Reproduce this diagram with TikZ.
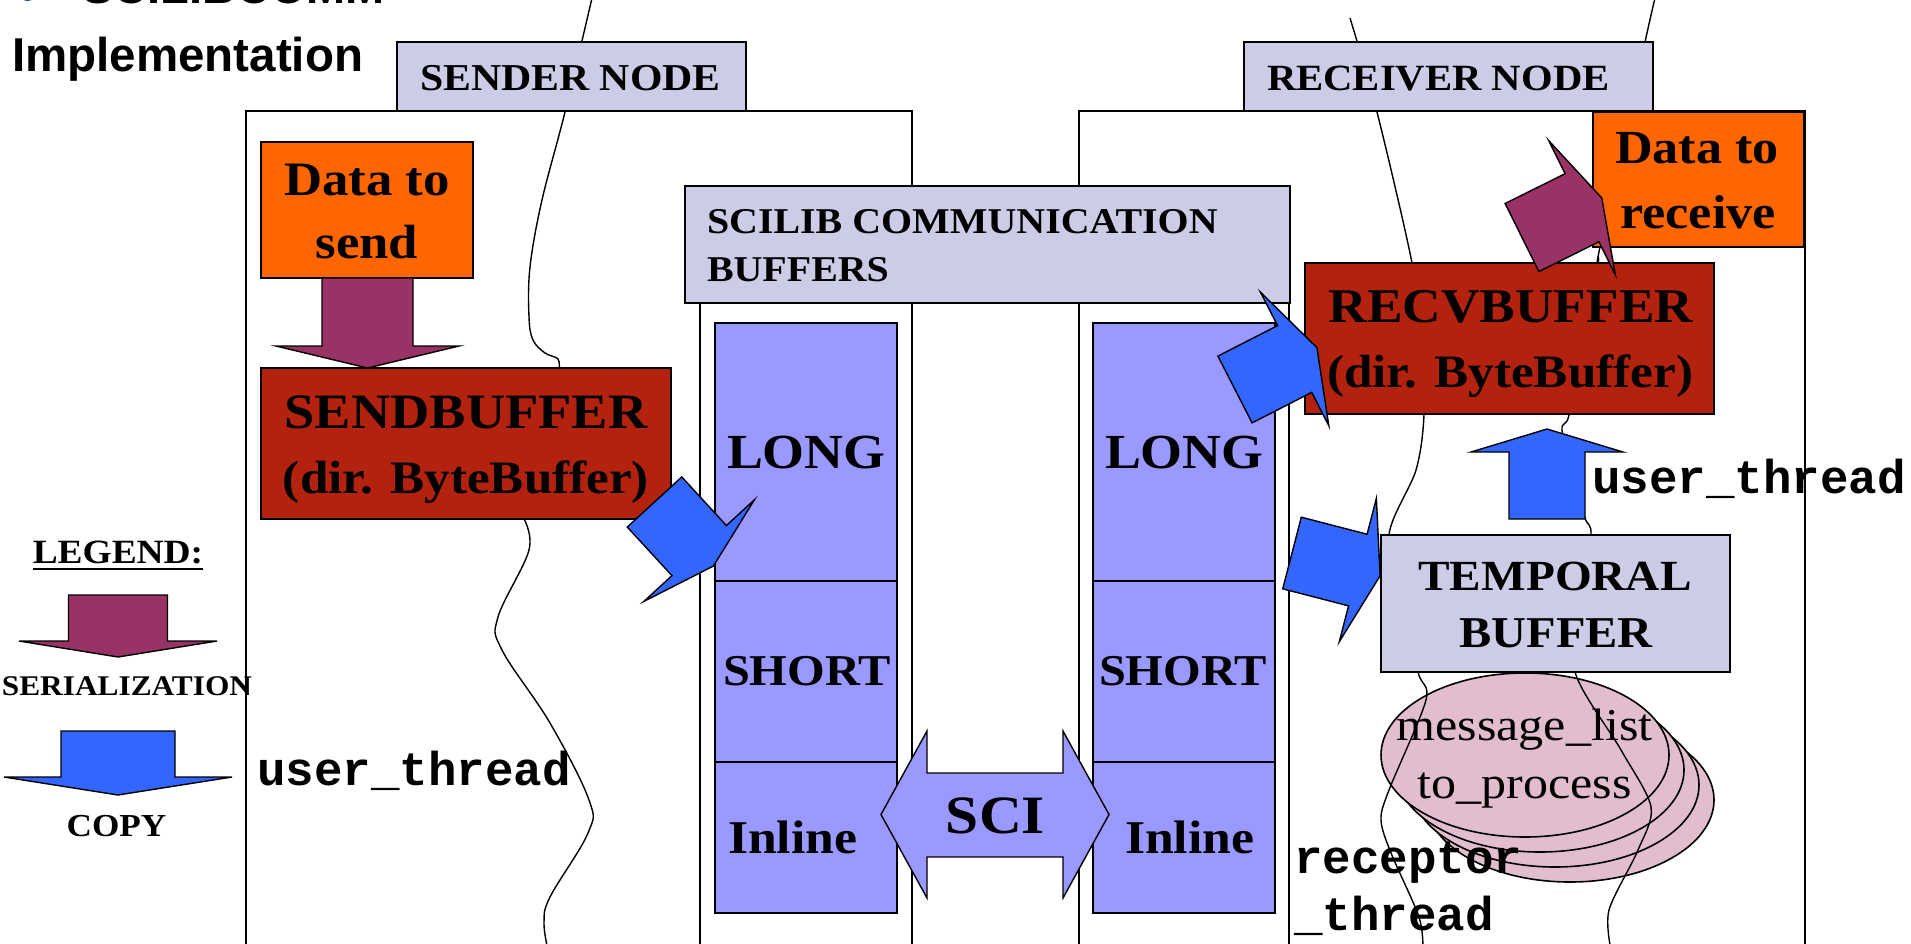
\documentclass[tikz,border=0pt]{standalone}
\usepackage{fontspec}
\setmainfont{Liberation Serif}
\newfontfamily\gserif[FakeStretch=1.1]{Liberation Serif}
\newfontfamily\gmono{Liberation Mono}
\newfontfamily\gsans{Liberation Sans}
\usetikzlibrary{shapes.geometric}
\newcommand{\fsz}[1]{\fontsize{#1}{#1}\selectfont}

\definecolor{lav}{RGB}{204,204,230}
\definecolor{orng}{RGB}{255,102,0}
\definecolor{brick}{RGB}{178,34,14}
\definecolor{plum}{RGB}{153,51,102}
\definecolor{cblue}{RGB}{51,102,255}
\definecolor{peri}{RGB}{153,153,255}
\definecolor{mlpink}{RGB}{225,189,205}
\definecolor{bullet}{RGB}{40,70,160}

% block arrow: #1,#2 back centre, #3 angle, #4 shaft half width,
% #5 shaft length, #6 head half width, #7 head depth, #8 fill colour
\newcommand{\blkarrow}[8]{%
  \begin{scope}[shift={(#1,#2)}, rotate=#3]
    \filldraw[fill=#8, draw=black, line width=1.4pt]
      (0,-#4) -- (#5,-#4) -- (#5,-#6) -- ({#5+#7},0) -- (#5,#6) -- (#5,#4) -- (0,#4) -- cycle;
  \end{scope}}

\begin{document}
\begin{tikzpicture}[x=1pt,y=-1pt,
  frame/.style={draw=black, line width=1.6pt, inner sep=0pt, outer sep=0pt},
  fbox/.style={frame, fill=#1},
  blk/.style={frame, fill=peri, minimum width=182pt},
  thr/.style={draw=black, line width=1.4pt},
  sb/.style={inner sep=0pt, outer sep=0pt, font=\gserif\bfseries},
  mono/.style={inner sep=0pt, outer sep=0pt, anchor=base west, font=\gmono\bfseries\fsz{47.5}}]
\useasboundingbox (0,0) rectangle (1911,943);
\fill[white] (0,0) rectangle (1911,943);

% page title, running off the top edge
\fill[bullet] (27.5,-9) circle (10pt);
\node[inner sep=0pt, anchor=base west, font=\gsans\bfseries\fsz{47}] (toptitle) at (82,3) {SCILIBCOMM};
\node[inner sep=0pt, anchor=base west, font=\gsans\bfseries\fsz{47.5}] (impl) at (12,71) {Implementation};

% node frames and buffer columns
\node[frame, minimum width=666pt, minimum height=839pt] (sendnode) at (579,530.5) {};
\node[frame, minimum width=726pt, minimum height=839pt] (recvnode) at (1442,530.5) {};
\node[frame, minimum width=212pt, minimum height=647pt] (sendcol) at (806,626.5) {};
\node[frame, minimum width=210pt, minimum height=647pt] (recvcol) at (1184,626.5) {};

% message list stack
\node[ellipse, fbox=mlpink, minimum width=288pt, minimum height=164pt] (msg4) at (1570,800) {};
\node[ellipse, fbox=mlpink, minimum width=288pt, minimum height=164pt] (msg3) at (1555,785) {};
\node[ellipse, fbox=mlpink, minimum width=288pt, minimum height=164pt] (msg2) at (1540,770) {};
\node[ellipse, fbox=mlpink, minimum width=288pt, minimum height=164pt] (msg1) at (1525,755) {};

% threads
\draw[thr] plot[smooth, tension=0.6] coordinates {(592,-2) (565,112) (542,200) (530,267) (529,317) (533,340) (545,353) (558,359) (559,370)};
\draw[thr] plot[smooth, tension=0.6] coordinates {(523,517) (529,550) (498,617) (502,650) (550,723) (589,800) (588,833) (550,897) (544,923) (548,950)};
\draw[thr] plot[smooth, tension=0.5] coordinates {(1350,18) (1377,112) (1412,263) (1421,340) (1424,414) (1416,470) (1389,535) (1405,600) (1418,672) (1426,700) (1389,790) (1381,820) (1391,853) (1419,917) (1423,950)};
\draw[thr] plot[smooth, tension=0.5] coordinates {(1655,-2) (1645,42) (1600,247) (1598,263) (1580,340) (1569,415) (1562,430) (1575,480) (1585,518) (1591,535) (1580,600) (1575,672) (1621,750) (1651,807) (1638,850) (1609,910) (1611,950)};

% boxes
\node[fbox=lav, minimum width=349pt, minimum height=69pt] (sendlbl) at (571.5,76.5) {};
\node[fbox=lav, minimum width=409pt, minimum height=69pt] (recvlbl) at (1448.5,76.5) {};
\node[fbox=lav, minimum width=605pt, minimum height=117pt] (scilib) at (987.5,244.5) {};
\node[fbox=orng, minimum width=212pt, minimum height=136pt] (datasend) at (367,210) {};
\node[fbox=brick, minimum width=410pt, minimum height=151pt] (sendbuf) at (466,443.5) {};
\node[fbox=orng, minimum width=211pt, minimum height=135pt] (datarecv) at (1698.5,179.5) {};
\node[fbox=brick, minimum width=409pt, minimum height=151pt] (recvbuf) at (1509.5,338.5) {};
\node[fbox=lav, minimum width=349pt, minimum height=137pt] (temporal) at (1555.5,603.5) {};

% communication buffer slots
\node[blk, minimum height=258pt] (slong) at (806,452) {};
\node[blk, minimum height=181pt] (sshort) at (806,671.5) {};
\node[blk, minimum height=151pt] (sinline) at (806,837.5) {};
\node[blk, minimum height=258pt] (rlong) at (1184,452) {};
\node[blk, minimum height=181pt] (rshort) at (1184,671.5) {};
\node[blk, minimum height=151pt] (rinline) at (1184,837.5) {};

% SCI link
\filldraw[fill=peri, draw=black, line width=1.4pt]
  (881,814.5) -- (927,731) -- (927,773) -- (1063,773) -- (1063,731) -- (1109,814.5)
  -- (1063,898) -- (1063,857) -- (927,857) -- (927,898) -- cycle;

% serialization and copy arrows
\blkarrow{367.5}{278}{-90}{45.5}{68}{91.5}{22}{plum}
\blkarrow{654.5}{502}{-47.4}{37}{66}{75}{21}{cblue}
\blkarrow{1235}{389.5}{27.1}{37.5}{67}{75}{25}{cblue}
\blkarrow{1292}{553}{-14.5}{37}{68}{74}{23}{cblue}
\blkarrow{1522}{237.5}{26.4}{38}{67}{75}{22}{plum}
\blkarrow{1547}{519}{90}{38}{67}{76}{23}{cblue}

% legend
\blkarrow{118}{595}{-90}{49.5}{46}{99}{16}{plum}
\blkarrow{118}{731}{-90}{57}{46}{114}{18}{cblue}
\node[sb, anchor=base, font=\gserif\bfseries\fsz{34}] (legtxt) at (118,563) {LEGEND:};
\draw[line width=2pt] ([yshift=-6pt]legtxt.base west) -- ([yshift=-6pt]legtxt.base east);
\node[sb, anchor=base, font=\gserif\bfseries\fsz{28.5}] (sertxt) at (127,695) {SERIALIZATION};
\node[sb, anchor=base, font=\gserif\bfseries\fsz{32}] (copytxt) at (116.5,836) {COPY};

% labels
\node[sb, anchor=base west, font=\gserif\bfseries\fsz{38}] (sendlbltxt) at (420,90) {SENDER NODE};
\node[sb, anchor=base west, font=\gserif\bfseries\fsz{37}] (recvlbltxt) at (1267,90) {RECEIVER NODE};
\node[sb, anchor=base west, font=\gserif\bfseries\fsz{36.3}] (scitxta) at (707,233) {SCILIB COMMUNICATION};
\node[sb, anchor=base west, font=\gserif\bfseries\fsz{36.3}] (scitxtb) at (707,281) {BUFFERS};
\node[sb, anchor=base, font=\gserif\bfseries\fsz{48}] (dsa) at (367,195) {Data to};
\node[sb, anchor=base, font=\gserif\bfseries\fsz{48}] (dsb) at (367,258) {send};
\node[sb, anchor=base, font=\gserif\bfseries\fsz{49.5}] (sba) at (466,428) {SENDBUFFER};
\node[sb, anchor=base, font=\gserif\bfseries\fsz{46.5}] (sbb) at (466,493) {(dir. ByteBuffer)};
\node[sb, anchor=base, font=\gserif\bfseries\fsz{47.5}] (dra) at (1697,163) {Data to};
\node[sb, anchor=base, font=\gserif\bfseries\fsz{47.5}] (drb) at (1698,228) {receive};
\node[sb, anchor=base, font=\gserif\bfseries\fsz{48.5}] (rba) at (1511,322) {RECVBUFFER};
\node[sb, anchor=base, font=\gserif\bfseries\fsz{46.5}] (rbb) at (1510,387) {(dir. ByteBuffer)};
\node[sb, anchor=base, font=\gserif\bfseries\fsz{43}] (tpa) at (1555,590) {TEMPORAL};
\node[sb, anchor=base, font=\gserif\bfseries\fsz{44}] (tpb) at (1556,647) {BUFFER};
\node[sb, anchor=base west, font=\gserif\bfseries\fsz{49}] (slongtxt) at (727,468) {LONG};
\node[sb, anchor=base west, font=\gserif\bfseries\fsz{44}] (sshorttxt) at (723,685) {SHORT};
\node[sb, anchor=base west, font=\gserif\bfseries\fsz{47}] (sinlinetxt) at (728,853) {Inline};
\node[sb, anchor=base west, font=\gserif\bfseries\fsz{49}] (rlongtxt) at (1105,468) {LONG};
\node[sb, anchor=base west, font=\gserif\bfseries\fsz{44}] (rshorttxt) at (1099,685) {SHORT};
\node[sb, anchor=base west, font=\gserif\bfseries\fsz{47}] (rinlinetxt) at (1125,853) {Inline};
\node[sb, anchor=base, font=\gserif\bfseries\fsz{54}] (scitxt) at (995.5,833) {SCI};
\node[inner sep=0pt, anchor=base, font=\gserif\fsz{45.5}] (mla) at (1524.5,740) {message\_list};
\node[inner sep=0pt, anchor=base, font=\gserif\fsz{45.5}] (mlb) at (1524.5,798) {to\_process};

% thread names
\node[mono] (suser) at (257,785) {user\_thread};
\node[mono] (ruser) at (1592,493) {user\_thread};
\node[mono] (recpa) at (1294,873) {receptor};
\node[mono] (recpb) at (1294,930) {\_thread};
\end{tikzpicture}
\end{document}
